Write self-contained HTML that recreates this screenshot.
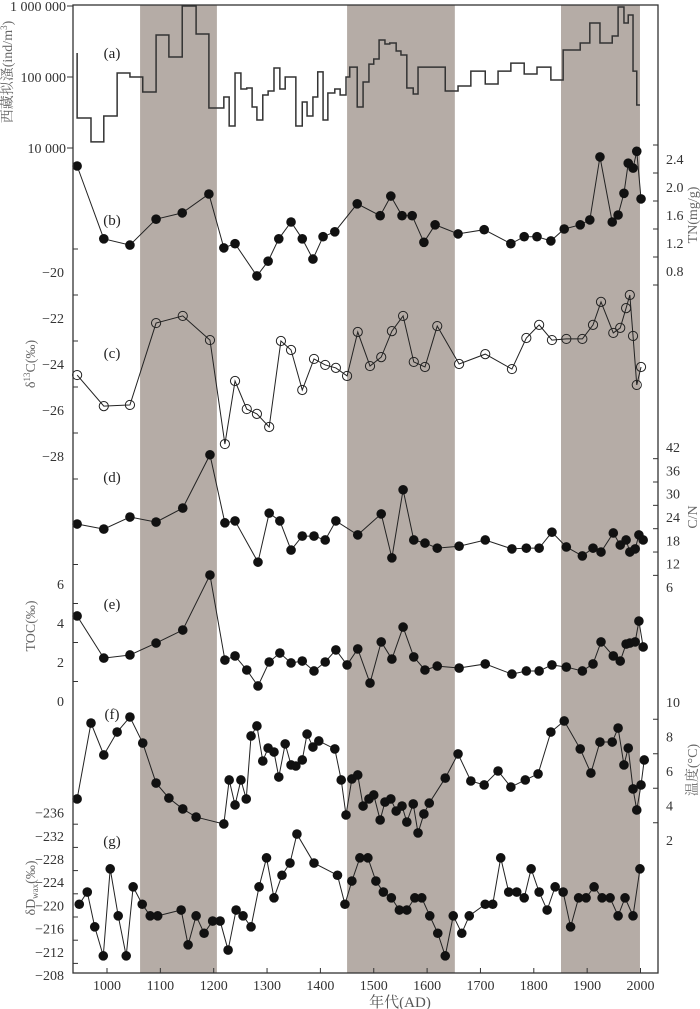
<!DOCTYPE html>
<html><head><meta charset="utf-8">
<style>
html,body{margin:0;padding:0;background:#fff;}
svg{display:block;font-family:"Liberation Serif","Noto Serif CJK SC",serif;}
</style></head>
<body>
<svg id="chart" width="700" height="1009" viewBox="0 0 700 1009" xmlns="http://www.w3.org/2000/svg">
  <g id="bands"></g>
  <g id="series"></g>
  <g id="axes"></g>
</svg>
<script>
// ---------- data ----------
const bandStart = [1062, 1450, 1851];
const bandEnd = [1206, 1652, 1999];
const xTicks = [1000, 1100, 1200, 1300, 1400, 1500, 1600, 1700, 1800, 1900, 2000];

// (a) Daphnia tibetana abundance (step)
const aEdges = [944,970,994,1019,1043,1067,1092,1116,1141,1167,1191,1219,1229,1240,1251,1262,1272,1281,1292,1302,1313,1324,1334,1354,1366,1375,1386,1395,1405,1414,1427,1437,1448,1455,1469,1480,1491,1500,1510,1521,1530,1542,1551,1562,1574,1583,1634,1658,1682,1709,1733,1757,1782,1806,1832,1855,1887,1905,1924,1947,1958,1969,1977,1986,1993,1999];
const aValues = [26500,12200,28200,114000,100000,61500,391000,191000,1000000,403000,36600,52300,20400,114000,67700,70000,37800,24800,55800,63500,134000,67700,100000,20400,44500,28200,52300,118000,24800,59500,67700,55800,100000,138000,37800,85000,152000,179000,332000,292000,301000,232000,204000,70000,57600,138000,63500,74700,121000,79700,121000,157000,110000,138000,90800,240000,301000,577000,301000,378000,968000,577000,747000,121000,40300];
const aStartValue = 218000;
const aTicks = [10000, 100000, 1000000];
const aTickLabels = ["10 000", "100 000", "1 000 000"];

// (b) TN
const tnYears = [944,994,1043,1092,1141,1191,1219,1240,1281,1302,1322,1345,1366,1386,1405,1427,1469,1512,1532,1553,1572,1594,1615,1658,1707,1757,1782,1806,1832,1857,1887,1905,1924,1947,1958,1969,1977,1986,1993,2001];
const tnValues = [2.30,1.26,1.17,1.54,1.63,1.90,1.13,1.19,0.73,0.94,1.26,1.50,1.26,0.97,1.29,1.36,1.76,1.59,1.87,1.59,1.59,1.21,1.46,1.33,1.39,1.19,1.29,1.29,1.23,1.40,1.46,1.53,2.43,1.50,1.60,1.91,2.34,2.27,2.51,1.83];
const tnTickLabels = [2.4, 2.0, 1.6, 1.2, 0.8];

// (c) d13C
const cYears = [944,994,1043,1092,1142,1193,1221,1240,1262,1281,1304,1326,1345,1366,1388,1409,1429,1450,1470,1493,1514,1534,1555,1575,1596,1619,1660,1709,1759,1786,1810,1834,1861,1891,1911,1926,1949,1962,1973,1980,1986,1993,2001];
const cValues = [-24.48,-25.83,-25.78,-22.22,-21.91,-22.96,-27.48,-24.74,-25.96,-26.17,-26.74,-23.0,-23.39,-25.13,-23.78,-24.04,-24.17,-24.52,-22.61,-24.09,-23.7,-22.57,-21.91,-23.91,-24.13,-22.35,-24.0,-23.57,-24.22,-22.87,-22.3,-22.96,-22.91,-22.91,-22.3,-21.3,-22.65,-22.43,-21.57,-21.0,-22.78,-24.91,-24.13];
const cTickLabels = [-20, -22, -24, -26, -28];

// (d) C/N
const dYears = [944,994,1043,1092,1142,1193,1221,1240,1283,1304,1324,1345,1366,1388,1409,1429,1470,1514,1534,1555,1575,1596,1619,1660,1709,1759,1786,1810,1834,1861,1891,1911,1926,1949,1962,1973,1980,1990,1997,2005];
const dValues = [22.2,20.9,24.0,22.7,26.3,40.0,22.5,23.0,12.4,25.0,23.0,15.5,19.1,19.1,18.1,23.0,19.4,24.8,13.5,31.0,18.1,17.3,16.0,16.5,18.1,15.8,16.0,16.0,20.1,16.3,14.0,16.0,15.0,19.9,16.8,18.1,15.0,15.8,19.4,18.1];
const dTickLabels = [42, 36, 30, 24, 18, 12, 6];

// (e) TOC
const eYears = [944,994,1043,1092,1142,1193,1221,1240,1262,1283,1304,1324,1345,1366,1388,1409,1429,1450,1470,1493,1514,1534,1555,1575,1596,1619,1660,1709,1759,1786,1810,1834,1861,1891,1911,1926,1949,1962,1973,1980,1990,1997,2005];
const eValues = [4.36,2.2,2.36,2.97,3.64,6.46,2.1,2.31,1.59,0.77,2.0,2.46,1.95,2.05,1.54,2.0,2.62,1.85,2.67,0.92,3.03,2.15,3.79,2.26,1.59,1.79,1.69,1.9,1.38,1.54,1.54,1.85,1.74,1.54,1.9,3.03,2.31,2.05,2.92,2.97,3.03,4.1,2.77];
const eTickLabels = [6, 4, 2, 0];

// (f) temperature
const fYears = [944,970,994,1019,1043,1067,1092,1116,1142,1167,1219,1229,1240,1251,1261,1270,1281,1292,1302,1313,1322,1334,1345,1354,1366,1375,1386,1397,1427,1439,1448,1459,1470,1480,1491,1500,1512,1521,1532,1542,1553,1562,1574,1583,1594,1604,1634,1658,1682,1707,1733,1757,1784,1808,1832,1857,1887,1907,1924,1947,1958,1969,1977,1986,1993,2001,2007];
const fValues = [4.38,8.78,6.93,8.26,9.13,7.62,5.30,4.43,3.8,3.33,2.93,5.48,4.03,5.48,4.38,8.03,8.61,6.58,7.33,7.1,5.65,7.57,6.35,6.29,6.64,8.14,7.39,7.74,7.28,5.48,3.45,5.54,5.77,3.97,4.38,4.61,3.16,4.2,4.38,3.68,3.97,3.04,4.09,2.41,3.51,4.14,5.59,6.99,5.42,5.19,6.0,5.07,5.48,5.83,8.26,8.9,7.28,5.88,7.68,7.68,8.49,6.35,7.33,4.96,3.74,5.19,6.64];
const fTickLabels = [10, 8, 6, 4, 2];

// (g) dD wax
const gYears = [948,963,977,993,1006,1021,1036,1049,1066,1081,1095,1139,1152,1167,1182,1198,1212,1227,1242,1255,1270,1285,1299,1313,1328,1343,1356,1388,1432,1446,1459,1474,1489,1504,1518,1533,1548,1562,1577,1590,1605,1620,1634,1649,1665,1679,1709,1723,1738,1753,1768,1782,1795,1810,1825,1840,1855,1869,1884,1898,1913,1928,1943,1958,1971,1986,1999];
const gValues = [-220.2,-222.3,-216.3,-211.3,-226.3,-218.2,-211.3,-223.2,-220.2,-218.2,-218.2,-219.2,-213.2,-218.2,-215.2,-217.3,-217.3,-212.3,-219.2,-218.2,-216.3,-223.2,-228.2,-221.3,-225.2,-227.3,-232.3,-227.3,-225.2,-220.2,-224.2,-228.2,-228.2,-224.2,-222.3,-221.3,-219.2,-219.2,-221.3,-221.3,-218.2,-215.2,-211.3,-218.2,-215.2,-218.2,-220.2,-220.2,-228.2,-222.3,-222.3,-221.3,-226.3,-222.3,-219.2,-223.2,-222.3,-216.3,-221.3,-221.3,-223.2,-221.3,-221.3,-218.2,-221.3,-218.2,-226.3];
const gTickLabels = [-236, -232, -228, -224, -220, -216, -212, -208];

// ---------- scales ----------
const L = 73, R = 658, T = 5, B = 973;
const xS = yr => 107 + (yr - 1000) * 0.5335;
const yA = v => 77 - (Math.log10(v) - 5) * 71;
const yB = v => 159 + (2.4 - v) * 70;
const yC = v => 272 + (-20 - v) * 23;
const yD = v => 447 + (42 - v) * 3.89;
const yE = v => 701 - v * 19.5;
const yF = v => 702 + (10 - v) * 17.25;
const yG = v => 975 + (v + 208) * 5.8;

const NS = "http://www.w3.org/2000/svg";
function mk(tag, parent, attrs) {
  const el = document.createElementNS(NS, tag);
  for (const k in attrs) el.setAttribute(k, attrs[k]);
  parent.appendChild(el);
  return el;
}
const gBands = document.getElementById('bands');
const gSeries = document.getElementById('series');
const gAxes = document.getElementById('axes');

// bands
for (let i = 0; i < bandStart.length; i++) {
  const r = mk('rect', gBands, {x: xS(bandStart[i]), y: T, width: xS(bandEnd[i]) - xS(bandStart[i]), height: B - T, fill: '#b5aca6'});
  
  
}

// step series (a)
{
  let d = 'M' + xS(aEdges[0]) + ',' + yA(aStartValue);
  for (let i = 0; i < aValues.length; i++) {
    d += ' L' + xS(aEdges[i]) + ',' + yA(aValues[i]) + ' L' + xS(aEdges[i + 1]) + ',' + yA(aValues[i]);
  }
  const p = mk('path', gSeries, {d: d, fill: 'none', stroke: '#333', 'stroke-width': 1.5});
  
  
}

function lineSeries(years, vals, ys, name, open) {
  const pts = years.map((y, i) => xS(y) + ',' + ys(vals[i])).join(' ');
  const pl = mk('polyline', gSeries, {points: pts, fill: 'none', stroke: '#222', 'stroke-width': 1});
  
  
  years.forEach((y, i) => {
    const c = mk('circle', gSeries, open ?
      {cx: xS(y), cy: ys(vals[i]), r: 4.6, fill: 'none', stroke: '#222', 'stroke-width': 1} :
      {cx: xS(y), cy: ys(vals[i]), r: 4.8, fill: '#111'});
    
    
  });
}
lineSeries(tnYears, tnValues, yB, 'tn', false);
lineSeries(cYears, cValues, yC, 'd13c', true);
lineSeries(dYears, dValues, yD, 'cn-ratio', false);
lineSeries(eYears, eValues, yE, 'toc', false);
lineSeries(fYears, fValues, yF, 'temperature', false);
lineSeries(gYears, gValues, yG, 'dd-wax', false);

// frame
{
  const f = mk('rect', gAxes, {x: L, y: T, width: R - L, height: B - T, fill: 'none', stroke: '#333', 'stroke-width': 1.3});
  
  
}
function txt(parent, x, y, s, anchor, size, fill, name) {
  const t = mk('text', parent, {x: x, y: y, 'text-anchor': anchor, 'font-size': size, fill: fill});
  t.textContent = s;
  
  
  return t;
}
// x axis
xTicks.forEach(yr => {
  const l = mk('line', gAxes, {x1: xS(yr), x2: xS(yr), y1: B, y2: B - 5, stroke: '#333'});
  
  
  txt(gAxes, xS(yr), 990, String(yr), 'middle', 14, '#333', 'x-tick-label');
});
txt(gAxes, 400, 1007, '年代(AD)', 'middle', 15, '#555', 'x-axis-title');

// left axes
function leftTick(y, len) {
  const l = mk('line', gAxes, {x1: L, x2: L + len, y1: y, y2: y, stroke: '#333'});
  
  
}
function rightTick(y) {
  const l = mk('line', gAxes, {x1: R, x2: R - 5, y1: y, y2: y, stroke: '#333'});
  
  
}
aTicks.forEach((v, i) => { leftTick(yA(v), -6); txt(gAxes, 66, yA(v) + 5, aTickLabels[i], 'end', 14, '#333', 'a-tick-label'); });
cTickLabels.forEach(v => { txt(gAxes, 64, yC(v) + 5, '\u2212' + Math.abs(v), 'end', 14, '#333', 'd13c-tick-label'); leftTick(yC(v - 1), 5); });
leftTick(yC(-19), 5);
eTickLabels.forEach(v => { txt(gAxes, 64, yE(v) + 5, String(v), 'end', 14, '#333', 'toc-tick-label'); leftTick(yE(v + 1), 5); });
gTickLabels.forEach(v => { txt(gAxes, 64, yG(v) + 5, '\u2212' + Math.abs(v), 'end', 14, '#333', 'dd-tick-label'); if (v < -208) leftTick(yG(v + 2), 5); });

// right axes
tnTickLabels.forEach(v => { txt(gAxes, 666, yB(v) + 5, v.toFixed(1), 'start', 14, '#333', 'tn-tick-label'); rightTick(yB(v + 0.2)); });
rightTick(yB(0.6));
dTickLabels.forEach(v => { txt(gAxes, 666, yD(v) + 5, String(v), 'start', 14, '#333', 'cn-tick-label'); if (v > 6) rightTick(yD(v - 3)); });
fTickLabels.forEach(v => { txt(gAxes, 666, yF(v) + 5, String(v), 'start', 14, '#333', 'temp-tick-label'); if (v > 2) rightTick(yF(v - 1)); });

// panel letters
[['(a)', 58], ['(b)', 225], ['(c)', 358], ['(d)', 482], ['(e)', 609], ['(f)', 719], ['(g)', 846]].forEach(p => {
  txt(gAxes, 112, p[1], p[0], 'middle', 15, '#222', 'panel-label');
});

// rotated axis titles
function rot(x, y, s, name, size) {
  const t = mk('text', gAxes, {x: x, y: y, 'text-anchor': 'middle', 'font-size': size || 14, fill: '#666', transform: 'rotate(-90 ' + x + ' ' + y + ')'});
  t.innerHTML = s;
  
  
}
rot(12, 72, '西藏拟溞(ind/m<tspan font-size="9" dy="-5">3</tspan><tspan dy="5">)</tspan>', 'a-axis-title');
rot(35, 364, 'δ<tspan font-size="9" dy="-5">13</tspan><tspan dy="5">C(‰)</tspan>', 'd13c-axis-title');
rot(35, 626, 'TOC(‰)', 'toc-axis-title');
rot(35, 888, 'δD<tspan font-size="9" dy="3">wax</tspan><tspan dy="-3">(‰)</tspan>', 'dd-axis-title');
rot(697, 215, 'TN(mg/g)', 'tn-axis-title');
rot(697, 517, 'C/N', 'cn-axis-title');
rot(697, 770, '温度(°C)', 'temp-axis-title');
</script>
</body></html>
